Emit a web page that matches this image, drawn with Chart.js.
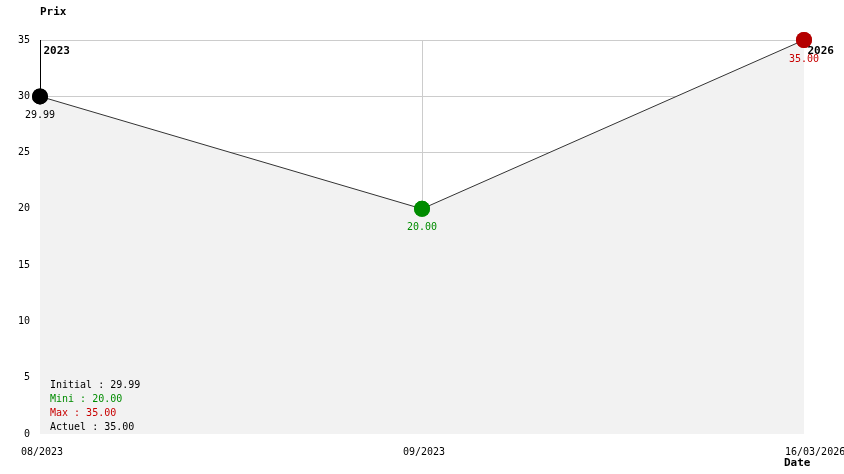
<!DOCTYPE html>
<html><head><meta charset="utf-8">
<script src="https://cdn.jsdelivr.net/npm/chart.js@4/dist/chart.umd.min.js"></script>
<style>html,body{margin:0;padding:0;background:#fff}canvas{display:block}</style>
</head><body>
<canvas id="c" width="844" height="474"></canvas>
<script>
const categories = ['08/2023', '09/2023', '16/03/2026'];
const prices = [29.99, 20.00, 35.00];
const pointColors = ['#000000', '#008c00', '#b40000'];
const labelColors = ['#000000', '#008c00', '#c80000'];
const yearLabels = ['2023', '', '2026'];
const summaryLines = ['Initial : 29.99', 'Mini : 20.00', 'Max : 35.00', 'Actuel : 35.00'];
const summaryColors = ['#000000', '#008c00', '#c80000', '#000000'];
const yAxisTitle = 'Prix';
const xAxisTitle = 'Date';

const MONO = '"DejaVu Sans Mono", "Liberation Mono", monospace';

const overlay = {
  id: 'overlay',
  afterDatasetsDraw(chart) {
    const ctx = chart.ctx;
    const area = chart.chartArea;
    const meta = chart.getDatasetMeta(0);
    ctx.save();
    const p0 = meta.data[0];
    ctx.strokeStyle = '#000';
    ctx.lineWidth = 1;
    ctx.beginPath();
    ctx.moveTo(Math.round(p0.x) + 0.5, area.top);
    ctx.lineTo(Math.round(p0.x) + 0.5, p0.y);
    ctx.stroke();
    meta.data.forEach((pt) => pt.draw(ctx, area));
    ctx.font = '10px ' + MONO;
    ctx.textAlign = 'center';
    ctx.textBaseline = 'middle';
    meta.data.forEach((pt, i) => {
      ctx.fillStyle = labelColors[i];
      ctx.fillText(prices[i].toFixed(2), pt.x, pt.y + 19);
    });
    ctx.font = 'bold 11px ' + MONO;
    ctx.textAlign = 'left';
    ctx.fillStyle = '#000';
    meta.data.forEach((pt, i) => {
      if (yearLabels[i]) ctx.fillText(yearLabels[i], pt.x + 3.5, area.top + 11.5);
    });
    ctx.fillText(yAxisTitle, area.left, 12.5);
    ctx.fillText(xAxisTitle, area.right - 20, 463.5);
    ctx.font = '10px ' + MONO;
    summaryLines.forEach((t, i) => {
      ctx.fillStyle = summaryColors[i];
      ctx.fillText(t, area.left + 10, area.bottom - 48.5 + i * 14);
    });
    ctx.restore();
  }
};

new Chart(document.getElementById('c'), {
  type: 'line',
  data: {
    labels: categories,
    datasets: [{
      data: prices,
      borderColor: '#333333',
      borderWidth: 1,
      backgroundColor: '#f2f2f2',
      fill: 'origin',
      tension: 0,
      pointRadius: 8,
      pointBorderWidth: 0,
      pointBackgroundColor: pointColors,
      pointBorderColor: pointColors,
      clip: false
    }]
  },
  options: {
    responsive: false,
    devicePixelRatio: 1,
    animation: false,
    events: [],
    layout: { padding: { top: 40, right: 40, left: 0, bottom: 0 } },
    plugins: { legend: { display: false }, tooltip: { enabled: false }, title: { display: false } },
    scales: {
      x: {
        offset: false,
        grid: {
          color: (c) => (c.index === 1 ? '#cccccc' : 'rgba(0,0,0,0)'),
          drawTicks: false, lineWidth: 1
        },
        border: { display: false },
        ticks: {
          font: { family: MONO, size: 10 }, color: '#000',
          maxRotation: 0, autoSkip: false, align: 'start', labelOffset: -19, padding: 12
        },
        afterFit(s) { s.height = 40; s.paddingLeft = 0; s.paddingRight = 0; }
      },
      y: {
        min: 0, max: 35,
        grid: {
          color: (c) => (c.tick && c.tick.value === 0 ? 'rgba(0,0,0,0)' : '#cccccc'),
          drawTicks: false, lineWidth: 1
        },
        border: { display: false },
        ticks: { stepSize: 5, font: { family: MONO, size: 10 }, color: '#000', padding: 10 },
        afterFit(s) { s.width = 40; s.paddingTop = 0; s.paddingBottom = 0; }
      }
    }
  },
  plugins: [overlay]
});
</script>
</body></html>
